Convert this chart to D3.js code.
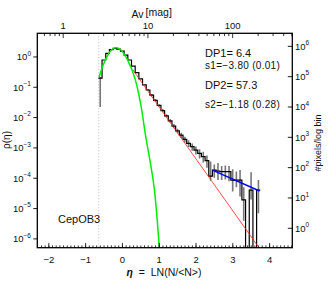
<!DOCTYPE html>
<meta charset="utf-8">
<style>
body { margin: 0; background: #fff; }
svg text { font-family: "Liberation Sans", Arial, sans-serif; fill: #111; }
</style>
<body>
<svg width="328" height="283"></svg>
<script src="https://d3js.org/d3.v7.min.js"></script>
<script>

// PDF of eta = ln(N/<N>), bins of 0.1 starting at the completeness limit
var binStart = -0.64, binWidth = 0.1;
// log10 p(eta) per bin, null = empty bin
var histLog = [-0.70, -0.10, 0.12, 0.24, 0.28, 0.26, 0.19, 0.06, -0.10, -0.30,
               -0.52, -0.72, -0.92, -1.09, -1.26, -1.43, -1.60, -1.77, -1.94, -2.11,
               -2.28, -2.44, -2.58, -2.72, -2.85, -2.96, -3.07, -3.18, -3.29, -3.42,
               -3.93, -3.73, -3.76, -3.78, -3.78, -3.78, -4.06, -4.06, -4.06, -4.71,
               null, -4.39, null, -4.39];
// error bar ends (log10), null = not visible
var errLo = [-1.65, null, null, null, null, null, null, null, null, null,
             null, null, null, -1.12, -1.30, -1.47, -1.64, -1.82, -1.99, -2.17,
             -2.35, -2.52, -2.67, -2.82, -2.97, -3.09, -3.22, -3.35, -3.48, -3.65,
             -4.08, -3.98, -4.06, -4.06, -4.04, -4.10, -4.44, -4.30, -4.60, -5.40,
             null, -4.70, null, -5.15];
var errHi = [-0.66, null, null, null, null, null, null, null, null, null,
             null, null, null, -1.06, -1.22, -1.39, -1.56, -1.72, -1.89, -2.05,
             -2.21, -2.37, -2.50, -2.63, -2.75, -2.85, -2.95, -3.04, -3.13, -3.25,
             -3.45, -3.55, -3.50, -3.60, -3.58, -3.60, -3.70, -3.78, -3.73, -4.30,
             null, -3.80, null, -4.06];

// lognormal fit (green)
var fitEta = [-0.62, -0.52, -0.42, -0.32, -0.22, -0.12, -0.02, 0.08, 0.18, 0.28,
              0.39, 0.52, 0.64, 0.76, 0.88, 1.02];
var fitLog = [-0.66, -0.30, -0.02, 0.18, 0.29, 0.30, 0.22, 0.06, -0.17, -0.45,
              -0.87, -1.62, -2.58, -3.40, -4.35, -6.35];

// power-law fits
var pl1Eta = [0.30, 3.70], pl1Log = [-0.43, -6.25];   // red
var pl2Eta = [2.46, 3.74], pl2Log = [-3.73, -4.42];   // blue

var etaLimit = -0.63;
var avMean = 5.0;
var countOffset = 5.65;   // log10(#pixels per log bin) - log10(p)

var etaMajor = [-2, -1, 0, 1, 2, 3, 4];
var avMajor = [1, 10, 100];
var avMinor = [0.6, 0.7, 0.8, 0.9, 2, 3, 4, 5, 6, 7, 8, 9,
               20, 30, 40, 50, 60, 70, 80, 90, 200, 300, 400, 500];
var pDecades = [-6, -5, -4, -3, -2, -1, 0];
var nDecades = [0, 1, 2, 3, 4, 5, 6];

var notes = [["DP1= 6.4", 11, 0], ["s1=\u22123.80 (0.01)", 10, 0.3], ["DP2= 57.3", 11, 0], ["s2=\u22121.18 (0.28)", 10, 0.3]];

var svg = d3.select("svg");
var L = 37.3, R = 292.3, T = 33.3, B = 247.7;

var x = d3.scaleLinear().domain([-2.3, 4.63]).range([L, R]);
var y = d3.scaleLog().domain([Math.pow(10, -6.29), Math.pow(10, 0.78)]).range([B, T]);
var yR = d3.scaleLog().domain([Math.pow(10, -6.29 + countOffset), Math.pow(10, 0.78 + countOffset)]).range([B, T]);
var av = d3.scaleLog().domain([avMean * Math.exp(-2.3), avMean * Math.exp(4.63)]).range([L, R]);

function p(v) { return v == null ? 1e-12 : Math.pow(10, v); }

svg.append("clipPath").attr("id", "clip")
  .append("rect").attr("x", L).attr("y", T).attr("width", R - L).attr("height", B - T);

var plot = svg.append("g").attr("clip-path", "url(#clip)");

// completeness limit
plot.append("line")
  .attr("x1", x(etaLimit)).attr("x2", x(etaLimit)).attr("y1", T).attr("y2", B)
  .attr("stroke", "#aaa").attr("stroke-width", 0.8).attr("stroke-dasharray", "1,2");

// error bars
var bins = histLog.map(function(v, i) {
  return { left: binStart + i * binWidth, mid: binStart + (i + 0.5) * binWidth, v: v, lo: errLo[i], hi: errHi[i] };
});
plot.selectAll(".err").data(bins.filter(function(d) { return d.lo != null; }))
  .enter().append("line")
  .attr("x1", function(d) { return x(d.mid); }).attr("x2", function(d) { return x(d.mid); })
  .attr("y1", function(d) { return y(p(d.lo)); }).attr("y2", function(d) { return y(p(d.hi)); })
  .attr("stroke", "#777").attr("stroke-width", 1.6);

// histogram
var steps = bins.map(function(d) { return [d.left, d.v]; });
steps.push([binStart + histLog.length * binWidth, histLog[histLog.length - 1]]);
plot.append("path")
  .attr("d", d3.line()
    .x(function(d) { return x(d[0]); })
    .y(function(d) { return y(p(d[1])); })
    .curve(d3.curveStepAfter)(steps))
  .attr("fill", "none").attr("stroke", "#000").attr("stroke-width", 1.2);

// lognormal fit
plot.append("path")
  .attr("d", d3.line()
    .x(function(d, i) { return x(d); })
    .y(function(d, i) { return y(p(fitLog[i])); })
    .curve(d3.curveCatmullRom)(fitEta))
  .attr("fill", "none").attr("stroke", "#00ee00").attr("stroke-width", 1.5);

// power laws
var pline = d3.line().x(function(d) { return x(d[0]); }).y(function(d) { return y(p(d[1])); });
plot.append("path").attr("d", pline(d3.zip(pl1Eta, pl1Log)))
  .attr("fill", "none").attr("stroke", "#ff2020").attr("stroke-width", 0.8);
plot.append("path").attr("d", pline(d3.zip(pl2Eta, pl2Log)))
  .attr("fill", "none").attr("stroke", "#0000ff").attr("stroke-width", 1.4);

// bottom axis
var gb = svg.append("g").attr("transform", "translate(0," + B + ")");
gb.call(d3.axisBottom(x).tickValues(d3.range(-2.2, 4.61, 0.1)).tickSizeInner(-2.3).tickSizeOuter(0).tickFormat(""));
gb.call(function(g) { g.select(".domain").remove(); });
var gb2 = svg.append("g").attr("transform", "translate(0," + B + ")");
gb2.call(d3.axisBottom(x).tickValues(etaMajor).tickSizeInner(-4.8).tickSizeOuter(0).tickPadding(9)
  .tickFormat(d3.format("d")));
gb2.select(".domain").remove();
gb2.selectAll("text").attr("font-size", "9.5px").attr("font-family", "Liberation Sans, Arial, sans-serif").attr("fill", "#111");

// top axis (Av)
var gt = svg.append("g").attr("transform", "translate(0," + T + ")");
gt.call(d3.axisTop(av).tickValues(avMinor).tickSizeInner(-2.8).tickSizeOuter(0).tickFormat(""));
gt.select(".domain").remove();
var gt2 = svg.append("g").attr("transform", "translate(0," + T + ")");
gt2.call(d3.axisTop(av).tickValues(avMajor).tickSizeInner(-4.8).tickSizeOuter(0).tickPadding(4)
  .tickFormat(d3.format("d")));
gt2.select(".domain").remove();
gt2.selectAll("text").attr("font-size", "9.5px").attr("font-family", "Liberation Sans, Arial, sans-serif").attr("fill", "#111");

svg.selectAll(".tick line").attr("stroke", "#000").attr("stroke-width", 0.8);

// left axis
svg.selectAll(".ltick").data(pDecades).enter().append("line")
  .attr("x1", L - 4).attr("x2", L)
  .attr("y1", function(d) { return y(Math.pow(10, d)); }).attr("y2", function(d) { return y(Math.pow(10, d)); })
  .attr("stroke", "#000").attr("stroke-width", 0.9);
var lt = svg.selectAll(".llab").data(pDecades).enter().append("text")
  .attr("x", 31).attr("y", function(d) { return y(Math.pow(10, d)) + 3.3; })
  .attr("text-anchor", "end").attr("font-size", "9.5px");
lt.append("tspan").text("10");
lt.append("tspan").attr("dy", -4.5).attr("font-size", "6.5px")
  .text(function(d) { return d < 0 ? "\u2212" + (-d) : d; });

// right axis
svg.selectAll(".rtick").data(nDecades).enter().append("line")
  .attr("x1", R - 4.5).attr("x2", R)
  .attr("y1", function(d) { return yR(Math.pow(10, d)); }).attr("y2", function(d) { return yR(Math.pow(10, d)); })
  .attr("stroke", "#000").attr("stroke-width", 0.9);
var rt = svg.selectAll(".rlab").data(nDecades).enter().append("text")
  .attr("x", 295).attr("y", function(d) { return yR(Math.pow(10, d)) + 3.3; })
  .attr("font-size", "9.5px");
rt.append("tspan").text("10");
rt.append("tspan").attr("dy", -4.5).attr("font-size", "6.5px").text(function(d) { return d; });

// frame
svg.append("rect").attr("x", L).attr("y", T).attr("width", R - L).attr("height", B - T)
  .attr("fill", "none").attr("stroke", "#000").attr("stroke-width", 1.3);

// titles
var at = svg.append("text").attr("x", 131.5).attr("y", 18.3).attr("font-size", "10.5px");
at.append("tspan").text("Av");
at.append("tspan").attr("dx", 2).attr("dy", -2.5).text("[mag]");

var bt = svg.append("text").attr("x", 164).attr("y", 275.5).attr("text-anchor", "middle").attr("font-size", "10.5px");
bt.append("tspan").attr("font-weight", "bold").attr("font-style", "italic").text("\u03b7");
bt.append("tspan").attr("xml:space", "preserve").text("  =  LN(N/<N>)");

svg.append("text").attr("transform", "translate(9.5,140) rotate(-90)")
  .attr("text-anchor", "middle").attr("font-size", "10px").text("\u03c1(\u03b7)");
svg.append("text").attr("transform", "translate(321,143) rotate(-90)")
  .attr("text-anchor", "middle").attr("font-size", "9px").text("#pixels/log bin");

svg.append("text").attr("x", 58).attr("y", 223).attr("font-size", "11px").text("CepOB3");

var noteY = [56.5, 68.5, 89, 107.5];
svg.selectAll(".note").data(notes).enter().append("text")
  .attr("x", 205).attr("y", function(d, i) { return noteY[i]; })
  .attr("font-size", function(d) { return d[1] + "px"; })
  .attr("letter-spacing", function(d) { return d[2]; })
  .text(function(d) { return d[0]; });

</script>
</body>
